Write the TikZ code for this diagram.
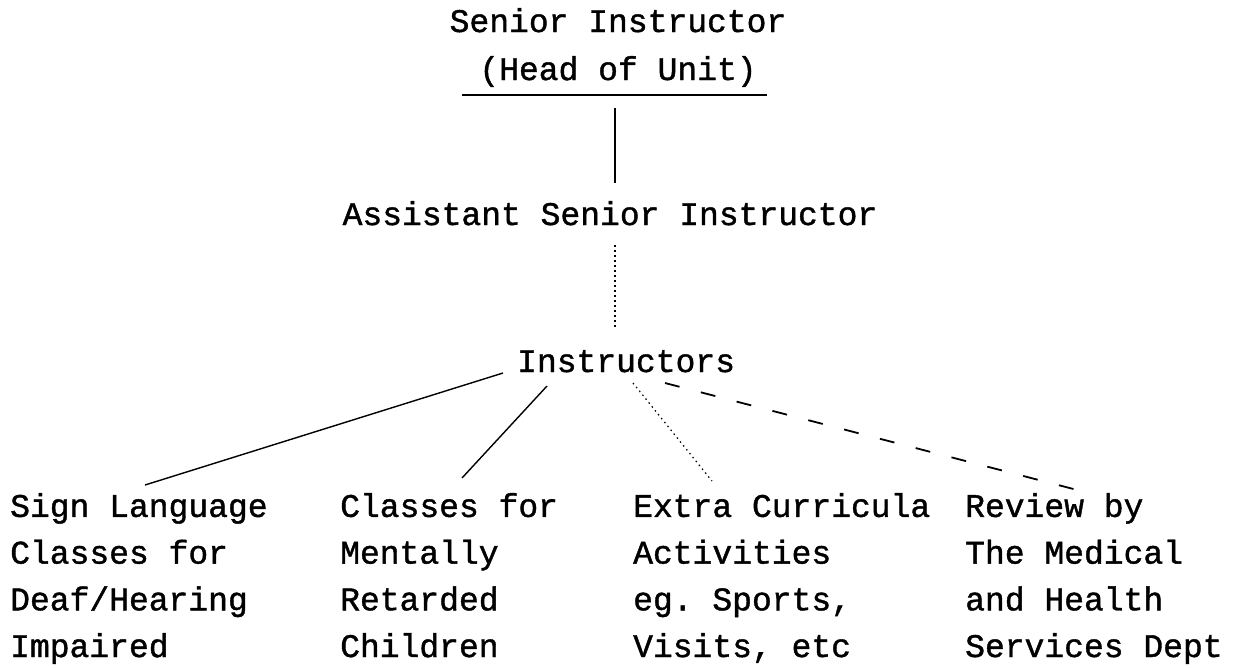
\documentclass[tikz,border=0pt]{standalone}
\usepackage{fontspec}
\setmonofont{Liberation Mono}[FakeBold=1.2]
\begin{document}
\begin{tikzpicture}[x=1pt,y=1pt,
  lbl/.style={font=\ttfamily\fontsize{33}{46.7}\selectfont, inner sep=0pt, align=left},
  solidconn/.style={line width=1.4pt},
  dotconn/.style={line width=1.2pt, dash pattern=on 1.5pt off 3.5pt},
  dashconn/.style={line width=1.8pt, dash pattern=on 15pt off 22pt}]
\useasboundingbox (0,0) rectangle (1233,-667);
\fill[white] (0,0) rectangle (1233,-667);
\node[lbl, align=center, anchor=base, font=\ttfamily\fontsize{33}{48}\selectfont] (si) at (618,-80) {Senior Instructor\\(Head of Unit)};
\node[lbl, anchor=base] (asi) at (610,-225) {Assistant Senior Instructor};
\node[lbl, anchor=base west] (ins) at (517,-372) {Instructors};
\node[lbl, anchor=base west] (c1) at (10,-657) {Sign Language\\Classes for\\Deaf/Hearing\\Impaired};
\node[lbl, anchor=base west] (c2) at (340,-657) {Classes for\\Mentally\\Retarded\\Children};
\node[lbl, anchor=base west] (c3) at (633,-657) {Extra Curricula\\Activities\\eg. Sports,\\Visits, etc};
\node[lbl, anchor=base west] (c4) at (965,-657) {Review by\\The Medical\\and Health\\Services Dept};
\coordinate (ulL) at (462,-95);
\coordinate (ulR) at (767,-95);
\coordinate (v1t) at (615,-108);
\coordinate (v1b) at (615,-183);
\coordinate (v2t) at (615,-245);
\coordinate (v2b) at (615,-330);
\coordinate (i1) at (503,-373);
\coordinate (e1) at (145,-485);
\coordinate (i2) at (547,-386);
\coordinate (e2) at (462,-478);
\coordinate (i3) at (633,-383);
\coordinate (e3) at (712,-481);
\coordinate (i4) at (665,-383);
\coordinate (e4) at (1085,-492);
\draw[line width=1.8pt] (ulL) -- (ulR);
\draw[solidconn] (v1t) -- (v1b);
\draw[dotconn] (v2t) -- (v2b);
\draw[solidconn] (i1) -- (e1);
\draw[solidconn] (i2) -- (e2);
\draw[dotconn] (i3) -- (e3);
\draw[dashconn] (i4) -- (e4);
\end{tikzpicture}
\end{document}
